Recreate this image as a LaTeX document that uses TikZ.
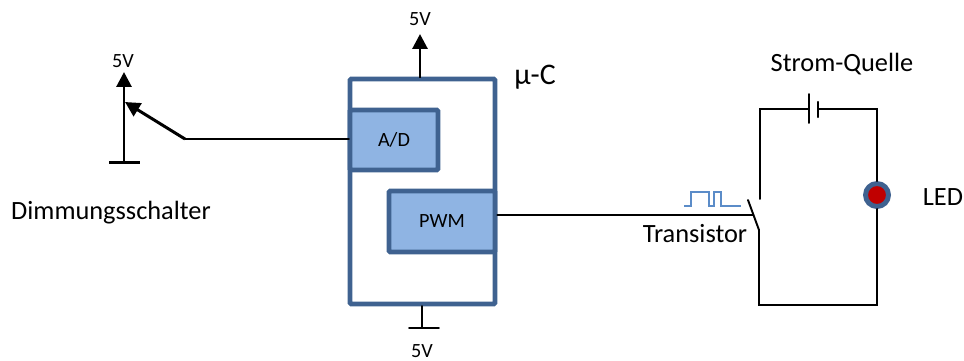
\documentclass[tikz,border=0pt]{standalone}
\usepackage{fontspec}
\setmainfont{Carlito}
\usetikzlibrary{arrows.meta}
\definecolor{boxline}{HTML}{3F6290}
\definecolor{boxfill}{HTML}{8FB4E3}
\definecolor{pulseblue}{HTML}{5B8CC8}
\definecolor{ledred}{HTML}{C00000}
\tikzset{
    wire/.style={line width=1.1pt,line cap=round,line join=miter},
    thickwire/.style={line width=1.7pt},
    chipbox/.style={draw=boxline,line width=2.6pt,rounded corners=0.6pt,inner sep=0pt},
    unit/.style={chipbox,fill=boxfill,font=\fontsize{11.5}{13}\selectfont},
    lbl/.style={font=\fontsize{15}{17}\selectfont,inner sep=0pt},
    smalllbl/.style={font=\fontsize{11.5}{13}\selectfont,inner sep=0pt}
}
\begin{document}
\begin{tikzpicture}[x=0.02cm,y=-0.02cm,>={Triangle[length=8.5pt,width=8.5pt]}]
        \useasboundingbox (0,0) rectangle (964,360);

        % the controller
        \node[chipbox,minimum width=2.9cm,minimum height=4.5cm] (mcu) at (422.5,191.5) {};
        \node[unit,minimum width=1.76cm,minimum height=1.2cm] (ad) at (394,140) {A/D};
        \node[unit,minimum width=2.12cm,minimum height=1.22cm] (pwm) at (442,221.5) {PWM};
        \node[lbl,font=\fontsize{17}{19}\selectfont] (mcname) at (535,77) {µ-C};

        % supply and ground of the controller
        \node[smalllbl] (vtop) at (420,19) {5V};
        \node[smalllbl] (vbot) at (422,351) {5V};
        \coordinate (toptip) at (420,34);
        \coordinate (topfoot) at (420,78);
        \coordinate (gndtop) at (422,306);
        \coordinate (gnd) at (422,328);
        \coordinate (gndl) at (409,328);
        \coordinate (gndr) at (439,328);
        \draw[thickwire,->] (topfoot) -- (toptip);
        \draw[wire] (gndtop) -- (gnd);
        \draw[wire] (gndl) -- (gndr);

        % the dimmer
        \node[smalllbl] (vdim) at (123,61) {5V};
        \node[lbl] (dimname) at (111,213) {Dimmungsschalter};
        \coordinate (dimfoot) at (124,162);
        \coordinate (dimtip) at (124,72);
        \coordinate (dimbl) at (109,162);
        \coordinate (dimbr) at (140,162);
        \coordinate (wiper) at (125,102);
        \coordinate (wiperknee) at (185,139);
        \coordinate (adin) at (349,139);
        \draw[thickwire,->] (dimfoot) -- (dimtip);
        \draw[thickwire] (dimbl) -- (dimbr);
        \draw[thickwire,->] (wiperknee) -- (wiper);
        \draw[wire] (wiperknee) -- (adin);

        % the load circuit
        \node[lbl] (srcname) at (842,64) {Strom-Quelle};
        \node[lbl] (ledname) at (943,197) {LED};
        \node[lbl] (tname) at (695,234) {Transistor};
        \node[circle,draw=boxline,fill=ledred,line width=2.8pt,minimum size=0.46cm,inner sep=0pt] (led) at (877,195) {};
        \coordinate (cornerlt) at (760,109);
        \coordinate (cornerrt) at (877,109);
        \coordinate (cornerrb) at (877,305);
        \coordinate (cornerlb) at (759,305);
        \coordinate (contact) at (760,199);
        \coordinate (bladetop) at (748,200);
        \coordinate (bladeend) at (759,230);
        \coordinate (gate) at (753,215);
        \coordinate (batlong) at (809,109);
        \coordinate (batshort) at (818,109);
        \draw[wire] (contact) -- (cornerlt) -- (batlong);
        \draw[wire] (batshort) -- (cornerrt) -- (led.north);
        \draw[wire] (led.south) -- (cornerrb) -- (cornerlb) -- (bladeend) -- (bladetop);
        \draw[wire] (809,94) -- (809,123);
        \draw[wire,line width=1.4pt] (818,102) -- (818,117);
        \draw[wire] (pwm.east |- gate) -- (gate);

        % the drive signal
        \draw[pulseblue,line width=0.85pt] (684,206) -| (691,192) -| (709,206) -| (714,192) -| (721,206) -- (741,206);
\end{tikzpicture}
\end{document}
